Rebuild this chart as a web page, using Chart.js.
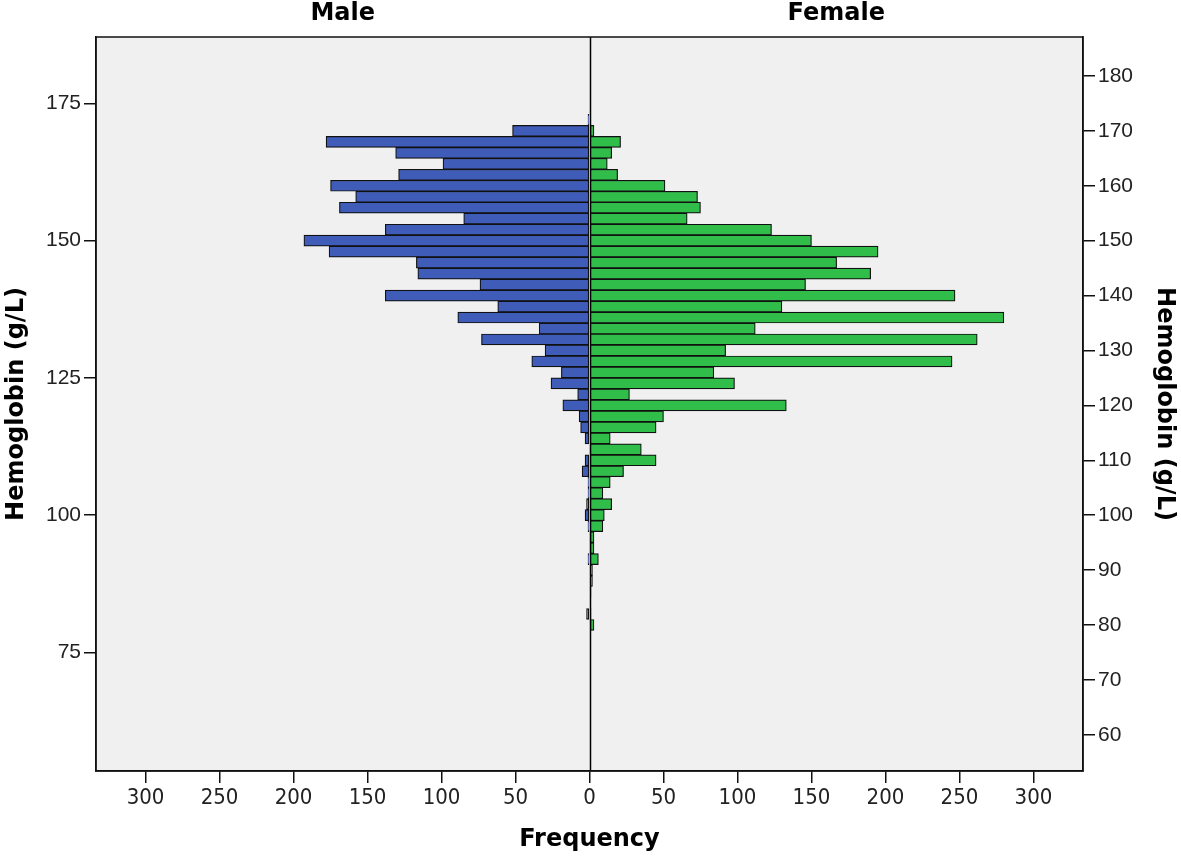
<!DOCTYPE html>
<html><head><meta charset="utf-8">
<script src="https://cdn.jsdelivr.net/npm/chart.js@4.4.0/dist/chart.umd.min.js"></script>
<style>html,body{margin:0;padding:0;background:#fff;overflow:hidden}</style>
</head><body>
<canvas id="c" width="1181" height="859" style="width:1181px;height:859px;display:block"></canvas>
<script>
// Hemoglobin bins (g/L, bin centres, width 2)
const binCenters = [172,170,168,166,164,162,160,158,156,154,152,150,148,146,144,142,140,138,136,134,132,130,128,126,124,122,120,118,116,114,112,110,108,106,104,102,100,98,96,94,92,90,88,86,84,82,80];
const maleCounts = [1,52,178,131,99,129,175,158,169,85,138,193,176,117,116,74,138,62,89,34,73,30,39,19,26,8,18,7,6,3,0,3,5,1,1,2,3,1,0,0,1,0,0,0,0,2,0];
const femaleCounts = [0,3,21,15,12,19,51,73,75,66,123,150,195,167,190,146,247,130,280,112,262,92,245,84,98,27,133,50,45,14,35,45,23,14,9,15,10,9,3,3,6,2,2,1,0,1,3];
const leftAxisTicks = [75,100,125,150,175];
const rightAxisTicks = [60,70,80,90,100,110,120,130,140,150,160,170,180];
const frequencyTicks = [-300,-250,-200,-150,-100,-50,0,50,100,150,200,250,300];
const panelTitles = ['Male','Female'];
const yRange = [53.4, 187.1];
const xRange = [-333.5, 333.5];

const maleData = binCenters.map((b,i)=>({x:-maleCounts[i], y:b}));
const femaleData = binCenters.map((b,i)=>({x:femaleCounts[i], y:b}));

const tickFont = {family:'"Liberation Sans", Arial, sans-serif', size:21};
const xTickFont = {family:'"Liberation Sans Narrow", "DejaVu Sans Condensed", "Liberation Sans", Arial, sans-serif', size:22};
const titleFont = {family:'"DejaVu Sans", sans-serif', size:24, weight:'bold'};

const framePlugin = {
  id:'frame',
  beforeDraw(chart){
    const {ctx, chartArea:a} = chart;
    ctx.save(); ctx.fillStyle='#f0f0f0';
    ctx.fillRect(a.left,a.top,a.right-a.left,a.bottom-a.top); ctx.restore();
  },
  afterDatasetsDraw(chart){
    const {ctx, chartArea:a, scales} = chart;
    const x0 = Math.round(scales.x.getPixelForValue(0))+0.5;
    ctx.save(); ctx.strokeStyle='#000'; ctx.lineWidth=1.5;
    ctx.beginPath(); ctx.moveTo(x0,a.top); ctx.lineTo(x0,a.bottom); ctx.stroke();
    ctx.lineWidth=1.5; ctx.strokeStyle='#111';
    ctx.strokeRect(a.left,a.top,a.right-a.left,a.bottom-a.top);
    ctx.restore();
  },
  afterDraw(chart){
    const {ctx, chartArea:a, scales} = chart;
    const x0 = scales.x.getPixelForValue(0);
    ctx.save(); ctx.fillStyle='#000';
    ctx.font = 'bold 24px "DejaVu Sans", sans-serif';
    ctx.textAlign='center'; ctx.textBaseline='alphabetic';
    ctx.fillText(panelTitles[0], (a.left+x0)/2, 20);
    ctx.fillText(panelTitles[1], (x0+a.right)/2, 20);
    ctx.restore();
  }
};

const yGrid = {drawOnChartArea:false, drawTicks:true, tickLength:12, color:'#111', lineWidth:1.5, offset:false};

new Chart(document.getElementById('c'), {
  type:'bar',
  data:{ datasets:[
    {label:'Male', data:maleData, backgroundColor:'#3e5cb8', borderColor:'#111', borderWidth:1.2, borderSkipped:false, grouped:false, barPercentage:1, categoryPercentage:1, yAxisID:'y'},
    {label:'Female', data:femaleData, backgroundColor:'#30bd4a', borderColor:'#111', borderWidth:1.2, borderSkipped:false, grouped:false, barPercentage:1, categoryPercentage:1, yAxisID:'y'}
  ]},
  options:{
    indexAxis:'y', responsive:false, animation:false, devicePixelRatio:1,
    layout:{padding:{top:37,left:0,right:0,bottom:0}},
    plugins:{legend:{display:false}, tooltip:{enabled:false}},
    scales:{
      x:{type:'linear', position:'bottom', min:xRange[0], max:xRange[1], offset:false,
        afterBuildTicks:s=>{s.ticks=frequencyTicks.map(v=>({value:v}));},
        afterFit:s=>{s.height=88;},
        ticks:{callback:v=>String(Math.abs(v)), font:xTickFont, color:'#222', padding:2, maxRotation:0, autoSkip:false},
        grid:{drawOnChartArea:false, drawTicks:true, tickLength:12, color:'#111', lineWidth:1.5, offset:false},
        border:{display:true, color:'#111', width:1.5},
        title:{display:true, text:'Frequency', font:titleFont, color:'#000', padding:{top:0,bottom:5}}
      },
      y:{type:'linear', position:'left', min:yRange[0], max:yRange[1], offset:false,
        afterBuildTicks:s=>{s.ticks=leftAxisTicks.map(v=>({value:v}));},
        afterFit:s=>{s.width=96;},
        ticks:{font:tickFont, color:'#222', padding:3, autoSkip:false},
        grid:yGrid,
        border:{display:true, color:'#111', width:1.5},
        title:{display:true, text:'Hemoglobin (g/L)', font:titleFont, color:'#000', padding:{top:2,bottom:0}}
      },
      y2:{type:'linear', position:'right', min:yRange[0], max:yRange[1], offset:false,
        afterBuildTicks:s=>{s.ticks=rightAxisTicks.map(v=>({value:v}));},
        afterFit:s=>{s.width=98;},
        ticks:{font:tickFont, color:'#222', padding:3, autoSkip:false},
        grid:yGrid,
        border:{display:true, color:'#111', width:1.5},
        title:{display:true, text:'Hemoglobin (g/L)', font:titleFont, color:'#000', padding:{top:2,bottom:0}}
      }
    }
  },
  plugins:[framePlugin]
});
</script>
</body></html>
